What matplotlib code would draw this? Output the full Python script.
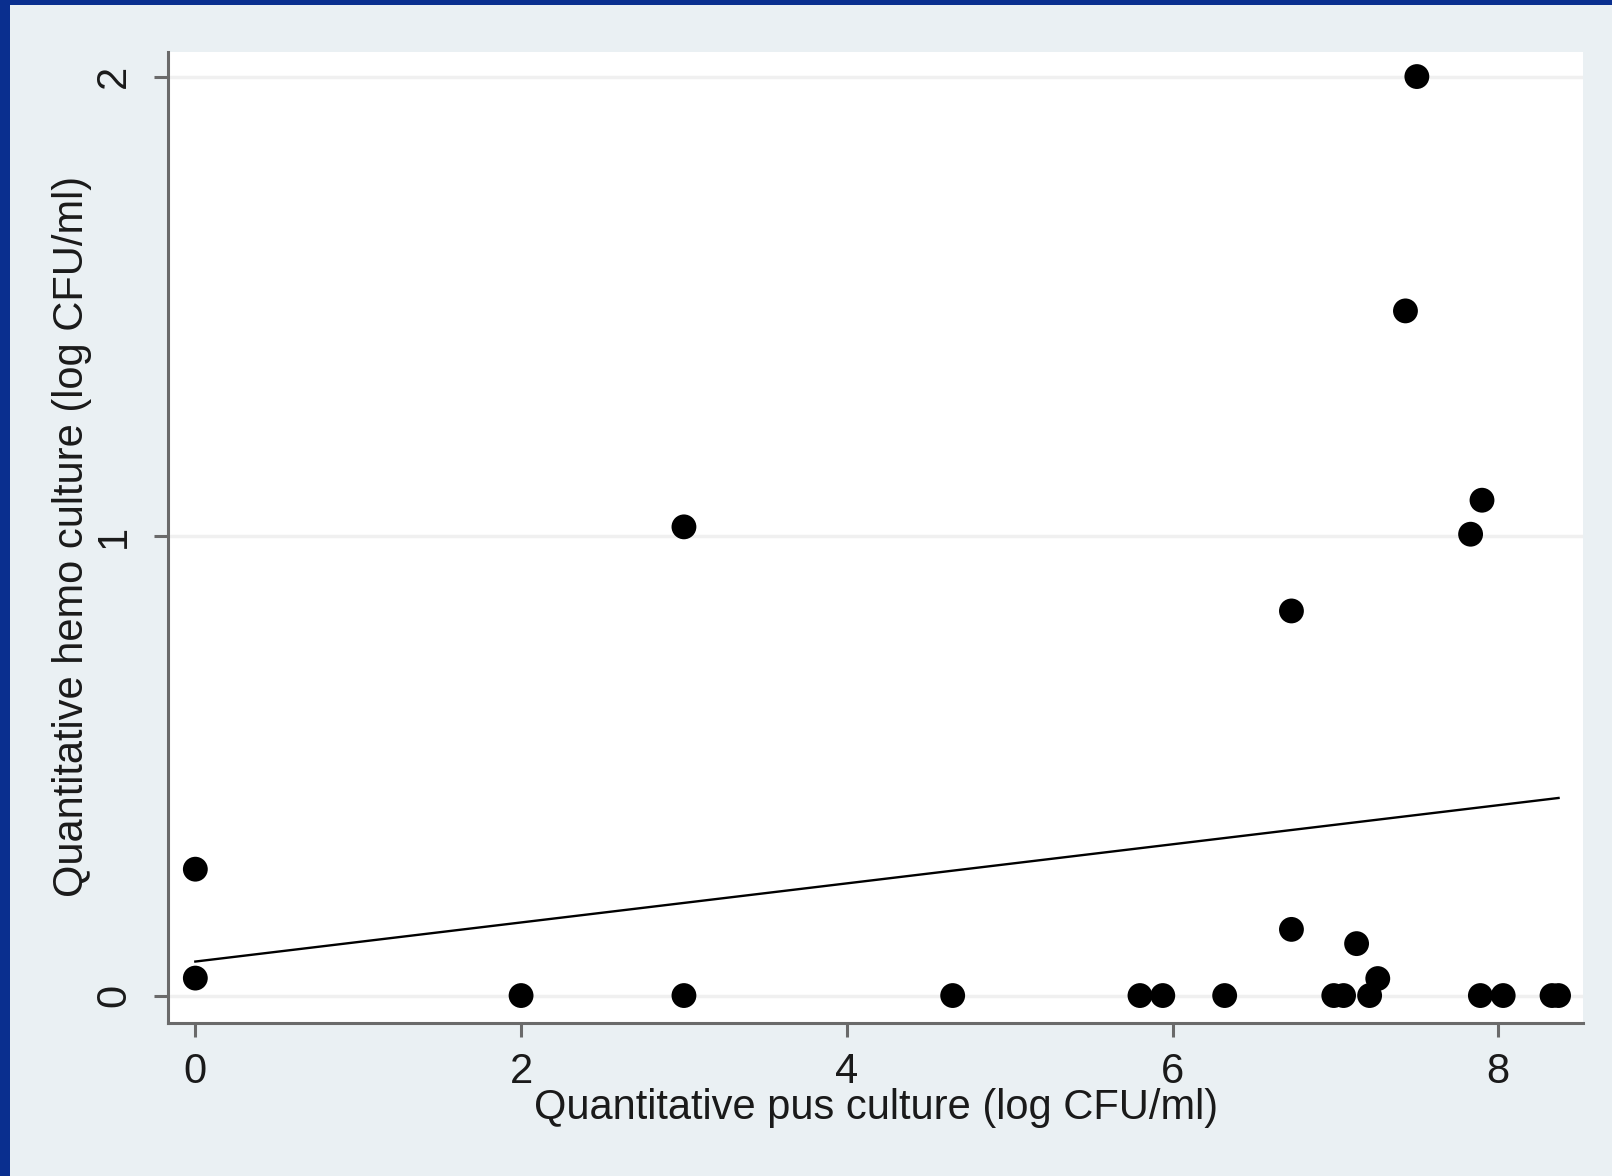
import numpy as np
import matplotlib.pyplot as plt
from matplotlib.patches import Rectangle

# values
pus = [0, 0, 2, 3, 3, 4.65, 5.80, 5.94, 6.32, 6.73, 6.73, 6.99, 7.05, 7.13,
       7.21, 7.26, 7.43, 7.50, 7.83, 7.90, 7.89, 8.03, 8.33, 8.37]
hemo = [0.275, 0.038, 0, 1.02, 0, 0, 0, 0, 0, 0.837, 0.144, 0, 0, 0.113,
        0, 0.037, 1.49, 2.0, 1.004, 1.078, 0, 0, 0, 0]
# fitted line as drawn in the picture
fit_x = [0, 8.37]
fit_y = [0.074, 0.43]
xticks = [0, 2, 4, 6, 8]
yticks = [0, 1, 2]

bg = '#eaf0f3'
spine = '#6a6a6a'

fig = plt.figure(figsize=(16.12, 11.76), dpi=100)
fig.patch.set_facecolor('#0a2f8f')
fig.patches.append(Rectangle((10 / 1612, 0), 1, 1 - 5 / 1176, transform=fig.transFigure,
                             facecolor=bg, edgecolor='none', zorder=-10))

ax = fig.add_axes([0.104, 0.130, 0.878, 0.826])
ax.set_facecolor('white')

for t in yticks:
    ax.axhline(t, color='#f0f0f0', lw=2.5, zorder=1)

ax.scatter(pus, hemo, s=320, c='black', edgecolors='none', zorder=3)
ax.plot(fit_x, fit_y, color='black', lw=1.7, zorder=2)

ax.set_xlim(-0.17, 8.52)
ax.set_ylim(-0.06, 2.054)
ax.set_xticks(xticks)
ax.set_yticks(yticks)

for s in ['top', 'right']:
    ax.spines[s].set_visible(False)
for s in ['left', 'bottom']:
    ax.spines[s].set_color(spine)
    ax.spines[s].set_linewidth(2.2)

ax.tick_params(length=10, width=2.2, color=spine, labelsize=30, labelcolor='#1a1a1a')
ax.tick_params(axis='x', pad=11)
ax.tick_params(axis='y', pad=14)
plt.setp(ax.get_yticklabels(), rotation=90, va='center')
for lab in ax.get_xticklabels() + ax.get_yticklabels():
    lab.set_family('Liberation Sans')

fig.text(876 / 1612, 1 - 1108 / 1176, 'Quantitative pus culture (log CFU/ml)',
         ha='center', va='center', fontsize=30, family='Liberation Sans', color='#1a1a1a')
fig.text(72 / 1612, 1 - 536 / 1176, 'Quantitative hemo culture (log CFU/ml)',
         ha='center', va='center', rotation=90, fontsize=30, family='Liberation Sans',
         color='#1a1a1a')

fig.savefig('out.png', dpi=100, facecolor=fig.get_facecolor())
